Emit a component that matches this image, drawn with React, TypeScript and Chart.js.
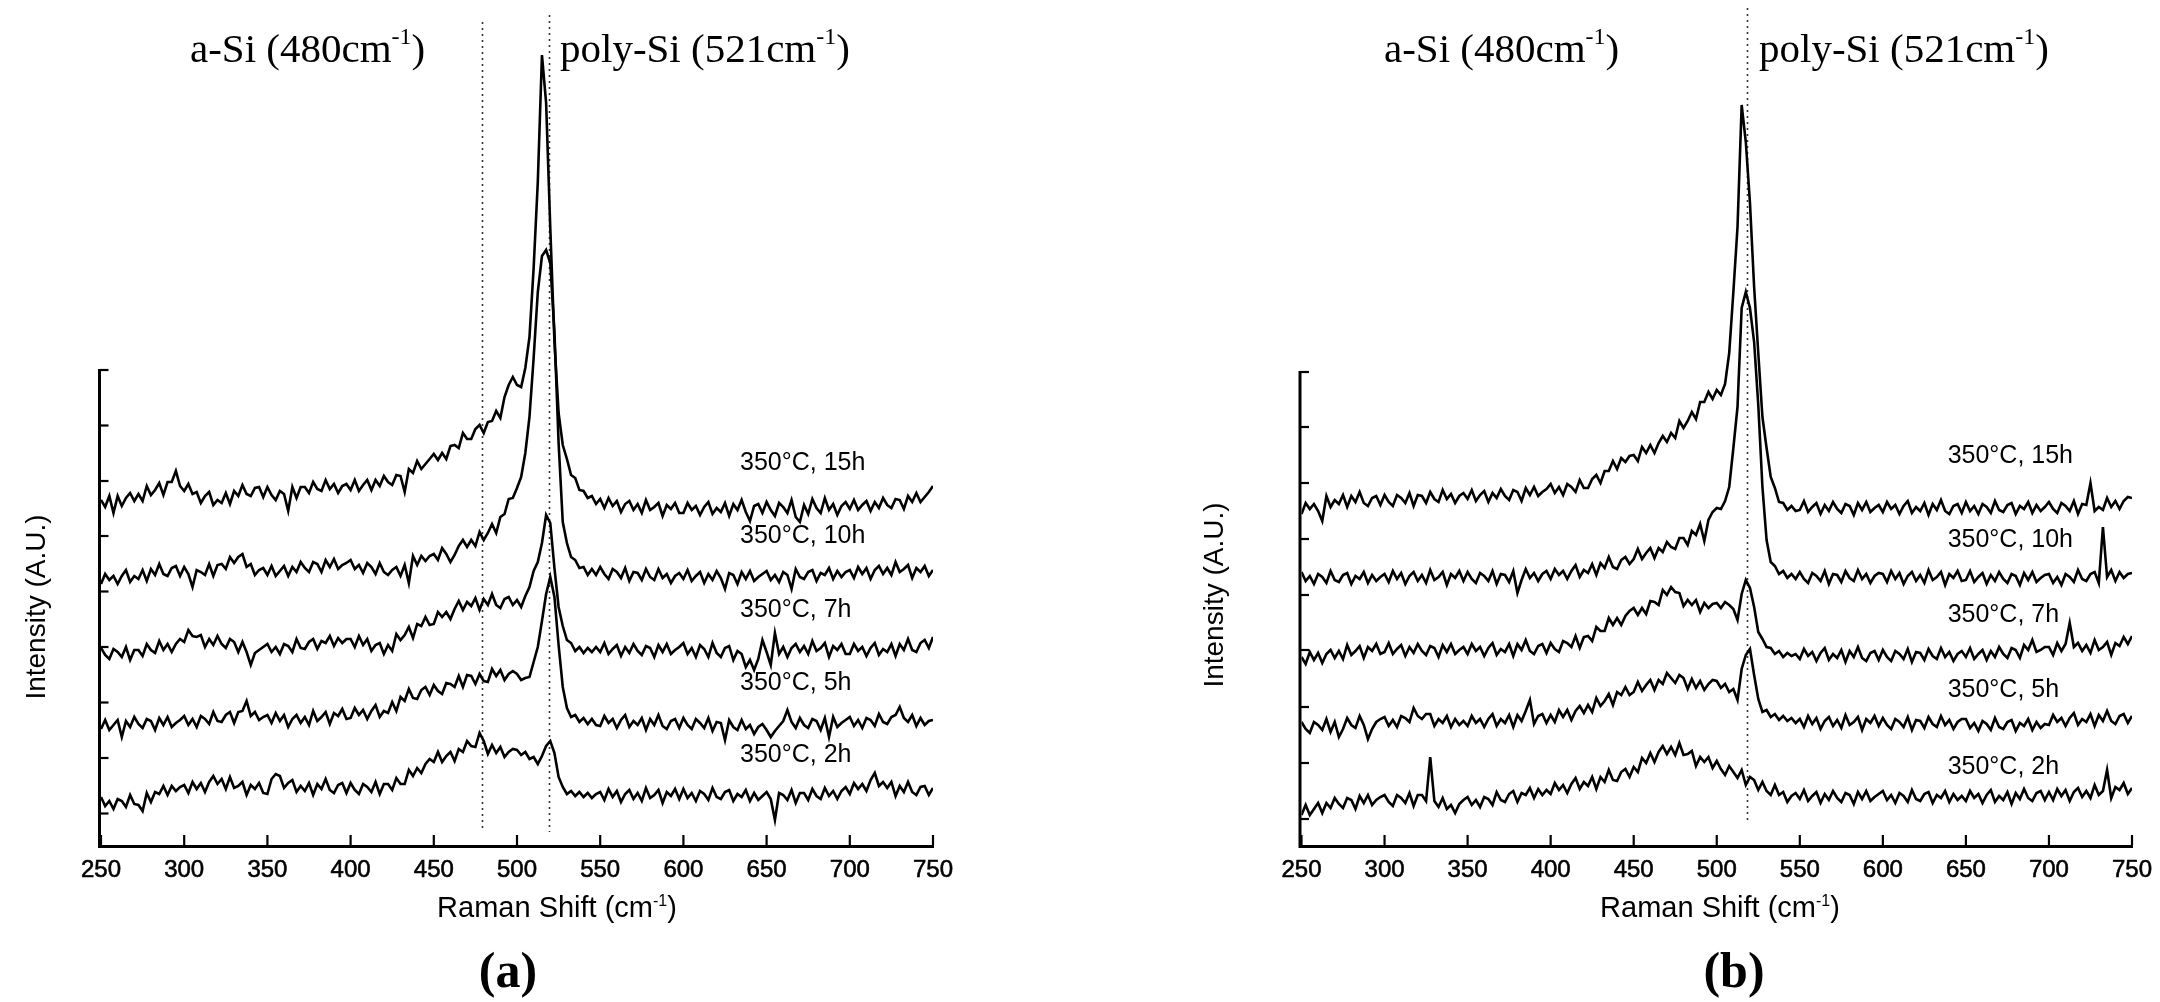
import React, { useEffect, useRef } from "react";
import { Chart, registerables } from "chart.js";

Chart.register(...registerables);

// Raman shift sampling (cm^-1)
const ramanShift = [
  250, 252.5, 255, 257.5, 260, 262.5, 265, 267.5, 270, 272.5, 275, 277.5, 280, 282.5, 285, 287.5, 290, 292.5, 295, 297.5,
  300, 302.5, 305, 307.5, 310, 312.5, 315, 317.5, 320, 322.5, 325, 327.5, 330, 332.5, 335, 337.5, 340, 342.5, 345, 347.5,
  350, 352.5, 355, 357.5, 360, 362.5, 365, 367.5, 370, 372.5, 375, 377.5, 380, 382.5, 385, 387.5, 390, 392.5, 395, 397.5,
  400, 402.5, 405, 407.5, 410, 412.5, 415, 417.5, 420, 422.5, 425, 427.5, 430, 432.5, 435, 437.5, 440, 442.5, 445, 447.5,
  450, 452.5, 455, 457.5, 460, 462.5, 465, 467.5, 470, 472.5, 475, 477.5, 480, 482.5, 485, 487.5, 490, 492.5, 495, 497.5,
  500, 502.5, 505, 507.5, 510, 512.5, 515, 517.5, 520, 522.5, 525, 527.5, 530, 532.5, 535, 537.5, 540, 542.5, 545, 547.5,
  550, 552.5, 555, 557.5, 560, 562.5, 565, 567.5, 570, 572.5, 575, 577.5, 580, 582.5, 585, 587.5, 590, 592.5, 595, 597.5,
  600, 602.5, 605, 607.5, 610, 612.5, 615, 617.5, 620, 622.5, 625, 627.5, 630, 632.5, 635, 637.5, 640, 642.5, 645, 647.5,
  650, 652.5, 655, 657.5, 660, 662.5, 665, 667.5, 670, 672.5, 675, 677.5, 680, 682.5, 685, 687.5, 690, 692.5, 695, 697.5,
  700, 702.5, 705, 707.5, 710, 712.5, 715, 717.5, 720, 722.5, 725, 727.5, 730, 732.5, 735, 737.5, 740, 742.5, 745, 747.5, 750,
];

const seriesLabels = ["350°C, 15h", "350°C, 10h", "350°C, 7h", "350°C, 5h", "350°C, 2h"];
const xTickValues = [250, 300, 350, 400, 450, 500, 550, 600, 650, 700, 750];
const yTickValuesA = [475, 419.5, 364, 309, 253.5, 198, 142.5, 87, 31.5];
const yTickValuesB = [473, 418, 362, 306, 250, 195, 138, 82, 26];

// Panel (a) intensities (offset-stacked, arbitrary units)
const a15h = [
  345, 338, 349, 332, 349, 339, 347, 352, 344, 351, 344, 359, 350, 355, 362, 350, 363, 363, 374, 359,
  354, 361, 351, 353, 342, 349, 353, 340, 345, 342, 352, 341, 354, 349, 360, 351, 349, 357, 358, 348,
  358, 350, 345, 354, 351, 334, 358, 347, 358, 358, 352, 363, 356, 354, 365, 356, 361, 352, 359, 361,
  355, 365, 354, 360, 365, 355, 365, 359, 369, 363, 360, 370, 369, 353, 376, 372, 384, 376, 381, 386,
  391, 385, 392, 386, 399, 400, 397, 412, 406, 406, 416, 420, 412, 423, 424, 434, 427, 448, 460, 468,
  460, 458, 477, 508, 577, 663, 790, 742, 617, 503, 432, 400, 386, 370, 367, 355, 354, 347, 349, 341,
  346, 337, 347, 339, 344, 333, 341, 344, 335, 341, 332, 345, 335, 338, 342, 329, 340, 336, 342, 332,
  332, 342, 335, 339, 330, 338, 343, 331, 337, 333, 342, 329, 341, 335, 345, 333, 324, 339, 341, 332,
  343, 335, 329, 342, 338, 332, 345, 328, 323, 340, 331, 346, 337, 332, 347, 335, 341, 330, 339, 343,
  336, 345, 335, 340, 344, 334, 343, 337, 347, 340, 337, 346, 345, 336, 349, 343, 352, 343, 348, 353, 359,
];
const a10h = [
  261, 271, 265, 269, 261, 269, 275, 263, 269, 266, 275, 264, 276, 270, 281, 271, 269, 277, 279, 269,
  278, 271, 258, 275, 273, 270, 281, 269, 280, 281, 276, 288, 282, 288, 291, 278, 281, 270, 275, 277,
  270, 279, 269, 274, 279, 269, 278, 273, 283, 277, 273, 283, 281, 273, 285, 278, 286, 276, 280, 282,
  285, 276, 280, 272, 282, 278, 271, 282, 273, 270, 275, 278, 269, 280, 262, 289, 280, 289, 284, 289,
  291, 285, 297, 291, 283, 290, 299, 305, 298, 305, 299, 313, 305, 312, 321, 312, 328, 331, 346, 347,
  357, 368, 392, 428, 487, 553, 589, 595, 582, 513, 402, 323, 302, 288, 285, 277, 278, 270, 276, 270,
  278, 271, 266, 276, 273, 267, 277, 264, 273, 272, 265, 276, 268, 265, 276, 267, 271, 262, 269, 272,
  266, 275, 264, 269, 273, 262, 271, 265, 274, 267, 256, 272, 270, 261, 273, 266, 274, 264, 268, 271,
  274, 265, 270, 263, 273, 270, 256, 276, 268, 266, 273, 275, 264, 272, 270, 277, 266, 274, 268, 273,
  275, 267, 278, 271, 277, 266, 275, 279, 271, 277, 270, 283, 273, 276, 280, 267, 277, 273, 279, 269, 275,
];
const a7h = [
  197, 190, 186, 196, 193, 188, 198, 185, 195, 195, 189, 201, 195, 192, 204, 195, 201, 193, 201, 206,
  203, 215, 209, 208, 210, 198, 206, 200, 209, 201, 197, 206, 203, 193, 203, 193, 180, 192, 195, 198,
  201, 193, 198, 191, 201, 199, 193, 206, 197, 196, 203, 206, 196, 204, 202, 209, 199, 207, 202, 206,
  206, 198, 209, 200, 206, 194, 200, 202, 191, 200, 194, 211, 205, 210, 218, 207, 221, 219, 228, 220,
  221, 233, 228, 233, 226, 236, 244, 235, 243, 239, 247, 235, 246, 240, 251, 240, 237, 246, 248, 240,
  245, 238, 249, 258, 274, 283, 302, 330, 322, 277, 238, 219, 205, 202, 194, 198, 192, 197, 193, 198,
  193, 202, 191, 196, 200, 189, 198, 192, 201, 194, 190, 199, 197, 188, 200, 193, 201, 191, 195, 198,
  202, 191, 197, 188, 200, 196, 188, 202, 192, 188, 197, 199, 185, 194, 191, 178, 185, 175, 186, 205,
  193, 180, 212, 191, 198, 188, 197, 201, 193, 199, 191, 204, 194, 197, 202, 188, 199, 195, 201, 191,
  191, 201, 194, 198, 189, 197, 202, 190, 196, 193, 201, 189, 201, 195, 206, 195, 193, 202, 205, 197, 208,
];
const a5h = [
  116, 125, 115, 120, 125, 108, 124, 118, 128, 121, 117, 126, 124, 115, 127, 120, 128, 118, 122, 125,
  129, 120, 126, 118, 129, 126, 121, 133, 124, 123, 130, 133, 122, 133, 134, 144, 129, 133, 125, 128,
  130, 122, 132, 124, 130, 118, 126, 130, 122, 128, 120, 134, 124, 128, 133, 121, 132, 129, 136, 126,
  127, 137, 130, 135, 126, 134, 140, 128, 134, 132, 143, 134, 148, 144, 156, 147, 146, 155, 158, 150,
  160, 154, 151, 162, 161, 158, 169, 158, 170, 169, 161, 171, 164, 163, 176, 169, 175, 165, 171, 174,
  171, 165, 167, 168, 183, 198, 224, 251, 268, 248, 200, 158, 137, 128, 130, 123, 127, 121, 126, 120,
  119, 129, 122, 126, 117, 125, 130, 118, 124, 120, 127, 115, 126, 120, 130, 119, 116, 124, 126, 117,
  127, 120, 116, 126, 122, 117, 127, 114, 123, 122, 105, 125, 118, 115, 125, 116, 120, 111, 118, 121,
  115, 108, 114, 119, 124, 135, 123, 117, 127, 120, 117, 126, 124, 115, 127, 108, 128, 118, 122, 125,
  128, 119, 125, 117, 127, 125, 119, 131, 123, 121, 128, 130, 138, 127, 123, 130, 119, 127, 120, 124, 125,
];
const a2h = [
  48, 39, 44, 36, 46, 44, 38, 50, 41, 40, 34, 52, 43, 53, 51, 59, 50, 59, 54, 58,
  60, 52, 63, 56, 62, 53, 63, 69, 61, 66, 56, 68, 57, 59, 63, 50, 60, 56, 62, 52,
  51, 66, 71, 69, 57, 62, 65, 53, 59, 54, 62, 50, 61, 56, 66, 55, 52, 60, 62, 52,
  62, 55, 51, 61, 58, 53, 63, 51, 61, 61, 55, 67, 61, 61, 75, 69, 77, 72, 81, 86,
  83, 93, 83, 89, 93, 84, 96, 93, 104, 99, 98, 112, 104, 91, 100, 92, 98, 88, 93, 96,
  95, 90, 93, 86, 88, 81, 89, 99, 104, 92, 68, 58, 51, 54, 49, 53, 48, 52, 47, 51,
  53, 45, 56, 48, 54, 43, 51, 55, 46, 52, 44, 57, 47, 50, 55, 42, 53, 49, 56, 46,
  56, 47, 52, 44, 54, 51, 45, 57, 48, 46, 53, 55, 44, 51, 48, 55, 44, 52, 45, 49,
  53, 46, 25, 52, 50, 45, 55, 42, 52, 52, 45, 56, 49, 46, 57, 49, 54, 46, 54, 58,
  51, 62, 56, 61, 54, 65, 72, 59, 63, 57, 63, 49, 59, 53, 63, 53, 50, 58, 59, 50, 57,
];

// Panel (b) intensities
const b15h = [
  331, 342, 336, 341, 334, 324, 349, 338, 345, 341, 350, 338, 349, 343, 353, 342, 339, 347, 349, 340,
  350, 343, 339, 350, 347, 342, 352, 339, 350, 349, 342, 353, 346, 343, 355, 346, 351, 342, 349, 352,
  346, 355, 344, 350, 354, 343, 352, 347, 356, 349, 345, 355, 353, 344, 357, 350, 358, 349, 353, 356,
  361, 352, 358, 350, 361, 358, 353, 365, 357, 357, 366, 370, 362, 374, 374, 384, 376, 387, 383, 389,
  390, 384, 398, 392, 400, 392, 402, 409, 403, 412, 407, 424, 417, 424, 433, 426, 443, 443, 453, 446,
  455, 450, 461, 492, 553, 618, 740, 703, 642, 558, 492, 428, 397, 368, 357, 343, 342, 335, 339, 334,
  335, 344, 333, 338, 342, 331, 340, 334, 343, 336, 332, 341, 339, 330, 342, 335, 343, 333, 337, 340,
  333, 343, 336, 340, 331, 339, 344, 332, 338, 334, 342, 330, 341, 335, 345, 334, 331, 339, 341, 332,
  343, 334, 339, 331, 341, 338, 332, 344, 335, 333, 340, 342, 331, 339, 336, 343, 332, 340, 334, 338,
  343, 336, 332, 342, 339, 334, 344, 331, 341, 340, 362, 334, 338, 335, 347, 338, 344, 336, 344, 348, 347,
];
const b10h = [
  273, 264, 269, 261, 271, 268, 262, 274, 265, 263, 270, 272, 261, 269, 266, 273, 262, 270, 264, 268,
  271, 263, 274, 266, 272, 261, 269, 273, 264, 270, 262, 275, 265, 268, 273, 260, 271, 267, 274, 264,
  273, 266, 262, 272, 269, 264, 274, 261, 271, 270, 263, 274, 252, 265, 276, 267, 272, 264, 271, 274,
  266, 276, 270, 274, 266, 274, 280, 268, 275, 272, 281, 270, 282, 277, 288, 278, 276, 285, 288, 281,
  286, 296, 286, 292, 297, 287, 297, 293, 303, 298, 296, 307, 307, 300, 314, 310, 321, 304, 325, 333,
  337, 336, 344, 358, 397, 438, 537, 553, 537, 503, 440, 358, 305, 283, 279, 271, 274, 267, 271, 266,
  273, 266, 262, 272, 269, 264, 274, 261, 271, 270, 263, 274, 267, 264, 275, 266, 271, 262, 269, 272,
  271, 263, 274, 266, 272, 261, 269, 273, 264, 270, 262, 275, 265, 268, 273, 260, 271, 267, 274, 264,
  265, 274, 263, 268, 272, 261, 270, 264, 273, 266, 262, 271, 269, 260, 272, 265, 273, 263, 267, 270,
  271, 262, 268, 260, 271, 268, 263, 275, 266, 264, 271, 273, 262, 318, 268, 275, 264, 273, 267, 271, 272,
];
const b7h = [
  188, 181, 193, 185, 192, 182, 191, 195, 187, 194, 186, 200, 190, 194, 199, 187, 198, 194, 201, 191,
  193, 202, 191, 196, 200, 189, 198, 192, 201, 194, 190, 199, 197, 188, 200, 193, 201, 191, 195, 198,
  191, 201, 194, 198, 189, 197, 202, 190, 196, 193, 201, 189, 201, 195, 205, 194, 191, 199, 201, 192,
  202, 196, 193, 204, 202, 198, 209, 197, 208, 209, 204, 218, 214, 214, 227, 220, 227, 220, 229, 234,
  237, 230, 237, 231, 244, 243, 240, 255, 250, 258, 253, 252, 239, 245, 240, 245, 233, 242, 237, 241,
  242, 237, 243, 240, 236, 225, 251, 265, 257, 238, 213, 206, 198, 197, 191, 194, 188, 192, 189, 191,
  186, 196, 189, 193, 184, 192, 197, 185, 191, 187, 195, 183, 194, 188, 198, 187, 184, 192, 194, 185,
  195, 188, 184, 194, 191, 186, 196, 183, 193, 192, 185, 196, 189, 186, 197, 188, 193, 184, 191, 194,
  188, 197, 186, 191, 195, 185, 194, 188, 198, 191, 187, 197, 195, 187, 200, 195, 205, 193, 195, 198,
  198, 190, 202, 194, 201, 222, 198, 202, 194, 200, 192, 205, 195, 198, 203, 190, 202, 199, 208, 201, 209,
];
const b5h = [
  123, 116, 112, 123, 120, 115, 126, 113, 123, 108, 116, 127, 120, 117, 129, 120, 106, 116, 123, 126,
  128, 119, 125, 118, 129, 127, 123, 137, 129, 126, 131, 131, 119, 126, 122, 129, 118, 126, 120, 124,
  119, 129, 122, 126, 118, 126, 131, 119, 126, 122, 130, 118, 130, 124, 134, 145, 121, 129, 131, 122,
  130, 123, 135, 128, 135, 125, 134, 139, 132, 140, 133, 147, 139, 144, 151, 140, 153, 150, 158, 150,
  153, 163, 154, 160, 165, 155, 165, 161, 172, 167, 162, 170, 167, 156, 166, 157, 164, 155, 161, 165,
  164, 157, 161, 153, 156, 145, 176, 190, 196, 170, 146, 133, 135, 128, 131, 125, 129, 124, 127, 122,
  126, 118, 129, 121, 127, 116, 124, 128, 119, 125, 117, 130, 120, 123, 128, 115, 126, 122, 129, 119,
  127, 120, 116, 126, 123, 118, 128, 115, 125, 124, 117, 128, 121, 118, 129, 120, 125, 116, 123, 126,
  126, 117, 122, 114, 124, 121, 115, 127, 118, 116, 123, 125, 114, 122, 119, 126, 115, 123, 117, 121,
  120, 130, 123, 127, 119, 127, 132, 120, 126, 123, 131, 119, 130, 124, 134, 124, 121, 129, 131, 122, 129,
];
const b2h = [
  30, 40, 30, 36, 42, 32, 42, 37, 47, 41, 37, 47, 45, 36, 49, 42, 50, 40, 45, 48,
  50, 43, 39, 50, 47, 42, 52, 39, 50, 50, 44, 88, 44, 38, 47, 36, 40, 32, 41, 45,
  48, 40, 45, 38, 48, 46, 40, 53, 45, 43, 51, 54, 43, 52, 50, 57, 47, 56, 50, 55,
  51, 62, 55, 60, 52, 61, 67, 56, 63, 59, 68, 56, 68, 63, 75, 65, 64, 73, 76, 68,
  78, 73, 87, 82, 92, 83, 93, 99, 91, 98, 90, 102, 90, 91, 94, 79, 88, 83, 88, 77,
  84, 76, 70, 79, 73, 67, 75, 60, 68, 65, 55, 63, 54, 50, 60, 50, 53, 43, 49, 52,
  46, 55, 44, 49, 53, 42, 51, 45, 54, 47, 43, 52, 50, 41, 53, 46, 54, 44, 48, 51,
  54, 45, 50, 42, 52, 49, 43, 55, 46, 44, 51, 53, 42, 50, 47, 54, 43, 51, 45, 49,
  44, 54, 47, 51, 42, 50, 55, 43, 49, 45, 53, 41, 52, 46, 56, 47, 44, 52, 54, 45,
  53, 45, 56, 49, 55, 44, 53, 57, 48, 54, 47, 60, 50, 54, 75, 47, 58, 55, 62, 51, 57,
];

const SANS = '"Liberation Sans", Arial, Helvetica, sans-serif';
const SERIF = '"Liberation Serif", "Times New Roman", serif';

type Part = { text: string; font: string; raise?: number };

function drawParts(ctx: CanvasRenderingContext2D, parts: Part[], x: number, y: number, align: "left" | "center") {
  ctx.textAlign = "left";
  ctx.textBaseline = "alphabetic";
  const widths = parts.map((p) => {
    ctx.font = p.font;
    return ctx.measureText(p.text).width;
  });
  const total = widths.reduce((s, w) => s + w, 0);
  let cx = align === "center" ? x - total / 2 : x;
  parts.forEach((p, i) => {
    ctx.font = p.font;
    ctx.fillText(p.text, cx, y - (p.raise || 0));
    cx += widths[i];
  });
}

type Layout = {
  padLeft: number;
  padRight: number;
  yTicks: number[];
  markers: { x: number; top: number }[];
  markerBottom: number;
  labelX: number;
  labelY: number[];
  yTitleX: number;
  yTitleY: number;
  xTitleCenter: number;
  letter: string;
  letterCenter: number;
  aSiLeft: number;
  polySiLeft: number;
};

const layoutA: Layout = {
  padLeft: 101,
  padRight: 147,
  yTicks: yTickValuesA,
  markers: [
    { x: 479, top: 823 },
    { x: 519, top: 830 },
  ],
  markerBottom: 13,
  labelX: 634,
  labelY: [375, 302, 228, 155, 83],
  yTitleX: 37,
  yTitleY: 607,
  xTitleCenter: 557,
  letter: "(a)",
  letterCenter: 508,
  aSiLeft: 190,
  polySiLeft: 560,
};

const layoutB: Layout = {
  padLeft: 221.5,
  padRight: 28,
  yTicks: yTickValuesB,
  markers: [{ x: 518, top: 837 }],
  markerBottom: 22,
  labelX: 639,
  labelY: [382, 298, 223, 148, 71],
  yTitleX: 135,
  yTitleY: 595,
  xTitleCenter: 640,
  letter: "(b)",
  letterCenter: 654,
  aSiLeft: 304,
  polySiLeft: 679,
};

function decorPlugin(L: Layout) {
  return {
    id: "decor",
    beforeDatasetsDraw(chart: any) {
      const ctx: CanvasRenderingContext2D = chart.ctx;
      const xs = chart.scales.x;
      const ys = chart.scales.y;
      ctx.save();
      ctx.strokeStyle = "#333";
      ctx.lineWidth = 1.6;
      ctx.setLineDash([2, 4]);
      L.markers.forEach((m) => {
        const px = Math.round(xs.getPixelForValue(m.x)) + 0.5;
        ctx.beginPath();
        ctx.moveTo(px, ys.getPixelForValue(m.top));
        ctx.lineTo(px, ys.getPixelForValue(L.markerBottom));
        ctx.stroke();
      });
      ctx.restore();
    },
    afterDraw(chart: any) {
      const ctx: CanvasRenderingContext2D = chart.ctx;
      const xs = chart.scales.x;
      const ys = chart.scales.y;
      const X = (v: number) => xs.getPixelForValue(v);
      const Y = (v: number) => ys.getPixelForValue(v);
      ctx.save();
      ctx.strokeStyle = "#000";
      ctx.fillStyle = "#000";
      ctx.setLineDash([]);

      const axisX = X(250) - 1.5;
      const axisY = Y(0);
      // axes
      ctx.lineWidth = 3;
      ctx.beginPath();
      ctx.moveTo(axisX, Y(L.yTicks[0]) - 1);
      ctx.lineTo(axisX, axisY + 1.5);
      ctx.lineTo(X(750) + 1, axisY + 1.5);
      ctx.stroke();

      // y ticks (inward)
      ctx.lineWidth = 2.2;
      L.yTicks.forEach((v) => {
        const py = Y(v);
        ctx.beginPath();
        ctx.moveTo(axisX, py);
        ctx.lineTo(axisX + 9, py);
        ctx.stroke();
      });
      // x ticks (inward)
      xTickValues.forEach((v) => {
        const px = X(v);
        ctx.beginPath();
        ctx.moveTo(px, axisY);
        ctx.lineTo(px, axisY - 10);
        ctx.stroke();
      });

      // x tick labels
      ctx.font = `24px ${SANS}`;
      ctx.textAlign = "center";
      ctx.textBaseline = "alphabetic";
      ctx.lineWidth = 0.6;
      xTickValues.forEach((v) => {
        ctx.fillText(String(v), X(v), axisY + 32);
        ctx.strokeText(String(v), X(v), axisY + 32);
      });

      // x axis title
      drawParts(
        ctx,
        [
          { text: "Raman Shift (cm", font: `29px ${SANS}` },
          { text: "-1", font: `16px ${SANS}`, raise: 11 },
          { text: ")", font: `29px ${SANS}` },
        ],
        L.xTitleCenter,
        917,
        "center"
      );

      // y axis title
      ctx.save();
      ctx.translate(L.yTitleX, L.yTitleY);
      ctx.rotate(-Math.PI / 2);
      ctx.font = `28px ${SANS}`;
      ctx.textAlign = "center";
      ctx.textBaseline = "middle";
      ctx.fillText("Intensity (A.U.)", 0, 0);
      ctx.restore();

      // panel letter
      ctx.font = `bold 50px ${SERIF}`;
      ctx.textAlign = "center";
      ctx.textBaseline = "alphabetic";
      ctx.fillText(L.letter, L.letterCenter, 987);

      // peak annotations
      drawParts(
        ctx,
        [
          { text: "a-Si (480cm", font: `41px ${SERIF}` },
          { text: "-1", font: `24px ${SERIF}`, raise: 18 },
          { text: ")", font: `41px ${SERIF}` },
        ],
        L.aSiLeft,
        62,
        "left"
      );
      drawParts(
        ctx,
        [
          { text: "poly-Si (521cm", font: `41px ${SERIF}` },
          { text: "-1", font: `24px ${SERIF}`, raise: 18 },
          { text: ")", font: `41px ${SERIF}` },
        ],
        L.polySiLeft,
        62,
        "left"
      );

      // series labels
      ctx.font = `25px ${SANS}`;
      ctx.textAlign = "left";
      ctx.textBaseline = "alphabetic";
      seriesLabels.forEach((lab, i) => {
        ctx.fillText(lab, X(L.labelX), Y(L.labelY[i]));
      });
      ctx.restore();
    },
  };
}

function Panel({ left, layout, series }: { left: number; layout: Layout; series: number[][] }) {
  const ref = useRef<HTMLCanvasElement>(null);
  useEffect(() => {
    if (!ref.current) return;
    const chart = new Chart(ref.current, {
      type: "line",
      data: {
        datasets: series.map((ys, k) => ({
          label: seriesLabels[k],
          data: ys.map((y, i) => ({ x: ramanShift[i], y })),
          borderColor: "#000",
          borderWidth: 2.6,
          pointRadius: 0,
          fill: false,
          tension: 0,
        })),
      },
      options: {
        responsive: false,
        maintainAspectRatio: false,
        animation: false,
        devicePixelRatio: 1,
        events: [],
        layout: { padding: { left: layout.padLeft, right: layout.padRight, top: 5, bottom: 157 } },
        scales: {
          x: { type: "linear", min: 250, max: 750, display: false },
          y: { type: "linear", min: 0, max: 840, display: false },
        },
        plugins: { legend: { display: false }, tooltip: { enabled: false } },
      },
      plugins: [decorPlugin(layout)],
    } as any);
    return () => chart.destroy();
  }, []);
  return (
    <canvas
      ref={ref}
      width={1080}
      height={1002}
      style={{ position: "absolute", left, top: 0, width: 1080, height: 1002 }}
    />
  );
}

export default function App() {
  return (
    <div style={{ position: "absolute", left: 0, top: 0, width: 2160, height: 1002, background: "#fff" }}>
      <Panel left={0} layout={layoutA} series={[a15h, a10h, a7h, a5h, a2h]} />
      <Panel left={1080} layout={layoutB} series={[b15h, b10h, b7h, b5h, b2h]} />
    </div>
  );
}
